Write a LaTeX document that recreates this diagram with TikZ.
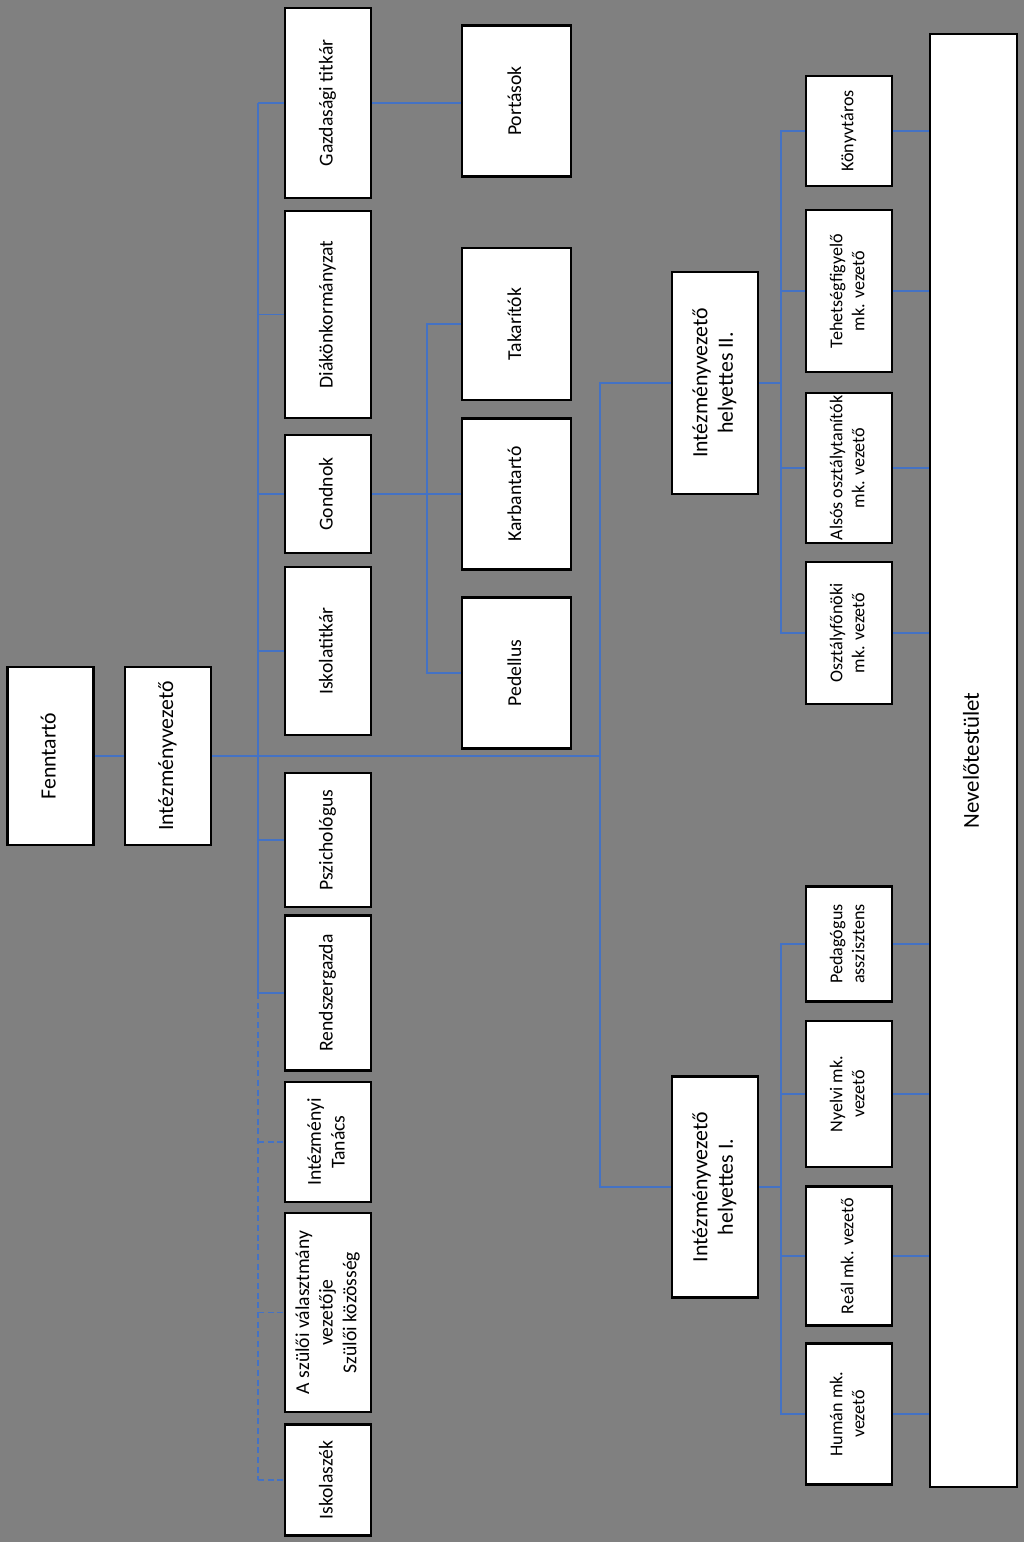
\documentclass[tikz,border=0pt]{standalone}
\usepackage{fontspec}
\setmainfont{Carlito}
\usepackage{graphicx}

\definecolor{bgGrey}{RGB}{128,128,128}
\definecolor{lineBlue}{RGB}{68,114,196}

% text reads bottom to top inside the boxes
\newcommand{\vtext}[1]{\rotatebox{90}{\begin{tabular}{@{}c@{}}#1\end{tabular}}}

\begin{document}
\begin{tikzpicture}[
    x=0.02cm, y=-0.02cm,
    box/.style={rectangle, draw=black, line width=1.2pt, fill=white,
                inner sep=0pt, font=\fontsize{11.2}{13.5}\selectfont},
    wh/.style 2 args={minimum width=#1*0.02cm, minimum height=#2*0.02cm},
    bigtxt/.style={font=\fontsize{12.4}{14.5}\selectfont},
    smalltxt/.style={font=\fontsize{10.3}{12.5}\selectfont},
    hugetxt/.style={font=\fontsize{13}{15}\selectfont},
    conn/.style={draw=lineBlue, line width=1.1pt},
    dconn/.style={conn, dash pattern=on 3.5pt off 2pt}
]
    \fill[bgGrey] (0,0) rectangle (1024,1542);
    \useasboundingbox (0,0) rectangle (1024,1542);

    % leaders
    \node[box, bigtxt, wh={86}{178}] (fenn) at (50.5,756) {\vtext{Fenntartó}};
    \node[box, bigtxt, wh={86}{178}] (ivez) at (168,756) {\vtext{Intézményvezető}};

    % column under the head
    \node[box, wh={86}{190}] (gazd) at (328,103) {\vtext{Gazdasági titkár}};
    \node[box, wh={86}{207}] (diak) at (328,314.5) {\vtext{Diákönkormányzat}};
    \node[box, wh={86}{118}] (gond) at (328,494) {\vtext{Gondnok}};
    \node[box, wh={86}{168}] (iskt) at (328,651) {\vtext{Iskolatitkár}};
    \node[box, wh={86}{134}] (pszi) at (328,840) {\vtext{Pszichológus}};
    \node[box, wh={86}{155}] (rend) at (328,993) {\vtext{Rendszergazda}};
    \node[box, wh={86}{120}] (itan) at (328,1142) {\vtext{Intézményi\\Tanács}};
    \node[box, wh={86}{199}] (szul) at (328,1312.5) {\vtext{A szülői választmány\\vezetője\\Szülői közösség}};
    \node[box, wh={86}{111}] (iszk) at (328,1480) {\vtext{Iskolaszék}};

    % staff
    \node[box, wh={109}{151}] (port) at (516.5,101) {\vtext{Portások}};
    \node[box, wh={109}{152}] (taka) at (516.5,324) {\vtext{Takarítók}};
    \node[box, wh={109}{151}] (karb) at (516.5,494) {\vtext{Karbantartó}};
    \node[box, wh={109}{151}] (pede) at (516.5,673) {\vtext{Pedellus}};

    % deputies
    \node[box, bigtxt, wh={86}{222}] (ivh2) at (715,383) {\vtext{Intézményvezető\\helyettes II.}};
    \node[box, bigtxt, wh={86}{221}] (ivh1) at (715,1187) {\vtext{Intézményvezető\\helyettes I.}};

    % work groups
    \node[box, smalltxt, wh={86}{110}] (konyv) at (849,131) {\vtext{Könyvtáros}};
    \node[box, smalltxt, wh={86}{162}] (tehet) at (849,291) {\vtext{Tehetségfigyelő\\mk. vezető}};
    \node[box, smalltxt, wh={86}{150}] (also) at (849,468) {\vtext{Alsós osztálytanítók\\mk. vezető}};
    \node[box, smalltxt, wh={86}{142}] (osztf) at (849,633) {\vtext{Osztályfőnöki\\mk. vezető}};
    \node[box, smalltxt, wh={86}{115}] (pedas) at (849,944) {\vtext{Pedagógus\\asszisztens}};
    \node[box, smalltxt, wh={86}{146}] (nyelv) at (849,1094) {\vtext{Nyelvi mk.\\vezető}};
    \node[box, smalltxt, wh={86}{139}] (real) at (849,1256) {\vtext{Reál mk. vezető}};
    \node[box, smalltxt, wh={86}{141}] (human) at (849,1414) {\vtext{Humán mk.\\vezető}};

    \node[box, hugetxt, wh={87}{1453}] (nevel) at (973.5,760.5) {\vtext{Nevelőtestület}};

    % junctions
    \coordinate (spine) at (258,756);
    \coordinate (fork) at (600,756);
    \coordinate (gnd) at (427,494);
    \coordinate (d2) at (781,383);
    \coordinate (d1) at (781,1187);

    \draw[conn] (fenn) -- (ivez);
    \draw[conn] (ivez) -- (fork);

    \draw[conn] (gazd.west -| spine) -- (rend.west -| spine);
    \draw[dconn] (rend.west -| spine) -- (iszk.west -| spine);
    \foreach \n in {gazd,diak,gond,iskt,pszi,rend}
        \draw[conn] (\n.west -| spine) -- (\n.west);
    \foreach \n in {itan,szul,iszk}
        \draw[dconn] (\n.west -| spine) -- (\n.west);

    \draw[conn] (gazd.east) -- (gazd.east -| port.west);
    \draw[conn] (gond.east) -- (gond.east -| karb.west);
    \draw[conn] (taka.west) -| (gnd) |- (pede.west);

    \draw[conn] (ivh2.west) -| (fork) |- (ivh1.west);

    \draw[conn] (ivh2.east) -- (d2);
    \draw[conn] (konyv.west) -| (d2) |- (osztf.west);
    \foreach \n in {tehet,also}
        \draw[conn] (\n.west -| d2) -- (\n.west);

    \draw[conn] (ivh1.east) -- (d1);
    \draw[conn] (pedas.west) -| (d1) |- (human.west);
    \foreach \n in {nyelv,real}
        \draw[conn] (\n.west -| d1) -- (\n.west);

    \foreach \n in {konyv,tehet,also,osztf,pedas,nyelv,real,human}
        \draw[conn] (\n.east) -- (\n.east -| nevel.west);
\end{tikzpicture}
\end{document}
